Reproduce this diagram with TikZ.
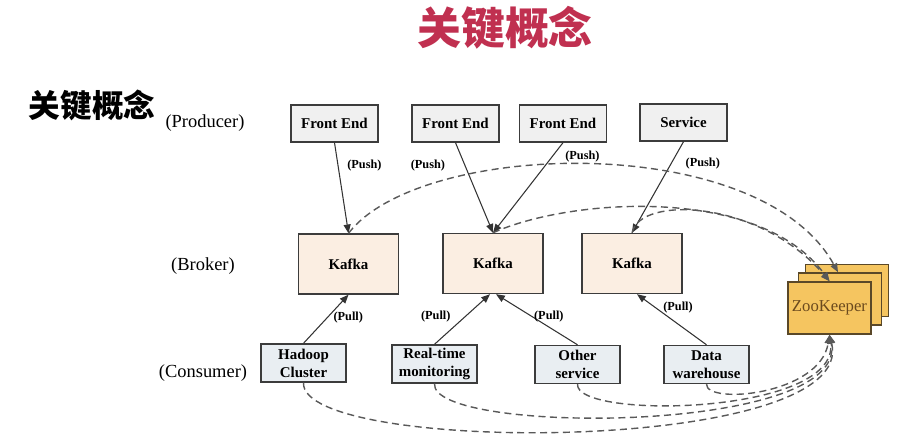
\documentclass[tikz,border=0pt]{standalone}
\usepackage{fontspec}
\setmainfont{Liberation Serif}
\newfontfamily\cjk{Noto Sans CJK SC}
\usetikzlibrary{positioning, arrows.meta, calc}

\definecolor{titlered}{RGB}{192,48,80}
\definecolor{boxline}{RGB}{60,60,60}
\definecolor{prodfill}{RGB}{240,240,240}
\definecolor{brokfill}{RGB}{251,238,226}
\definecolor{consfill}{RGB}{233,238,242}
\definecolor{zoofill}{RGB}{245,197,96}
\definecolor{zooline}{RGB}{90,72,40}
\definecolor{zootext}{RGB}{107,74,30}

\begin{document}
\begin{tikzpicture}[
  x=0.02cm, y=-0.02cm,
  prod/.style={draw=boxline, fill=prodfill, line width=0.8pt, minimum width=1.74cm,
    minimum height=0.74cm, inner sep=0pt, font=\bfseries\fontsize{8.5}{10}\selectfont},
  brok/.style={draw=boxline, fill=brokfill, line width=0.8pt, minimum width=2.0cm,
    minimum height=1.2cm, inner sep=0pt, font=\bfseries\fontsize{8.5}{10}\selectfont},
  cons/.style={draw=boxline, fill=consfill, line width=0.8pt, minimum width=1.7cm,
    minimum height=0.76cm, inner sep=0pt, align=center, font=\bfseries\fontsize{8.5}{10.2}\selectfont},
  zoo/.style={draw=zooline, fill=zoofill, line width=0.9pt, minimum width=1.66cm,
    minimum height=1.04cm, inner sep=0pt, text=zootext, font=\rmfamily\fontsize{9.5}{11}\selectfont},
  push/.style={-{Triangle[length=5pt, width=4pt]}, line width=0.6pt, draw=black!80},
  zkline/.style={-{Triangle[length=5pt, width=4pt]}, line width=0.8pt, draw=black!65,
    dash pattern=on 4pt off 2.5pt},
  lbl/.style={font=\bfseries\fontsize{7}{8}\selectfont, inner sep=1pt},
  row/.style={font=\fontsize{10.5}{12}\selectfont}
]
\useasboundingbox (0,0) rectangle (916,448);

% --- headings ---
\node[text=titlered, font=\cjk\bfseries\fontsize{25}{30}\selectfont] (title) at (505,28) {关键概念};
\node[font=\cjk\bfseries\fontsize{18}{22}\selectfont] (side) at (92,105) {关键概念};

% --- row captions ---
\node[row] (rprod) at (205,123) {(Producer)};
\node[row] (rbrok) at (203,266) {(Broker)};
\node[row] (rcons) at (203,373) {(Consumer)};

% --- producers ---
\node[prod] (fe1) at (334.5,123.5) {Front End};
\node[prod] (fe2) at (455.5,123.5) {Front End};
\node[prod] (fe3) at (563,123.5)   {Front End};
\node[prod] (sv)  at (683.5,122.5) {Service};

% --- brokers ---
\node[brok] (k1) at (348.5,264) {Kafka};
\node[brok] (k2) at (493,263.5) {Kafka};
\node[brok] (k3) at (632,263.5) {Kafka};

% --- consumers ---
\node[cons] (hc) at (303.5,363)   {Hadoop\\Cluster};
\node[cons] (rt) at (434.5,364)   {Real-time\\monitoring};
\node[cons] (os) at (577.5,364.5) {Other\\service};
\node[cons] (dw) at (706.5,364.5) {Data\\warehouse};

% --- zookeeper ensemble, stacked ---
\node[zoo] (zk3) at (847,290.5) {};
\node[zoo] (zk2) at (840,299)   {};
\node[zoo] (zk1) at (829.5,308) {ZooKeeper};

% push: producers -> brokers
\draw[push] (fe1.south) -- (k1.north) node[lbl, pos=0.25, right=4pt] {(Push)};
\draw[push] (fe2.south) -- (k2.north) node[lbl, pos=0.25, left=10pt] {(Push)};
\draw[push] (fe3.south) -- (k2.north) node[lbl, pos=0.15, right=6pt] {(Push)};
\draw[push] (sv.south) -- (k3.north) node[lbl, pos=0.24, right=7pt] {(Push)};

% pull: consumers -> brokers
\draw[push] (hc.north) -- (k1.south) node[lbl, pos=0.54, right=2pt] {(Pull)};
\draw[push] (rt.north) -- ($(k2.south)+(-3,0)$) node[lbl, pos=0.55, left=7pt] {(Pull)};
\draw[push] (os.north) -- ($(k2.south)+(3,0)$) node[lbl, pos=0.56, right=0pt] {(Pull)};
\draw[push] (dw.north) -- ($(k3.south)+(5,0)$) node[lbl, pos=0.73, right=3pt] {(Pull)};

% brokers register with zookeeper
\draw[zkline] (k1.north) .. controls (420,140) and (760,130) .. ($(zk2.north)+(-2,0)$);
\draw[zkline] (k2.north) .. controls (570,198) and (760,185) .. (zk1.north);
\draw[zkline] (k3.north) .. controls (640,195) and (760,200) .. (zk1.north);

% consumers track offsets in zookeeper
\draw[zkline] (hc.south) .. controls (300,455) and (860,455) .. (zk1.south);
\draw[zkline] (rt.south) .. controls (430,435) and (850,435) .. (zk1.south);
\draw[zkline] (os.south) .. controls (575,420) and (840,415) .. (zk1.south);
\draw[zkline] (dw.south) .. controls (706,405) and (820,395) .. (zk1.south);

\end{tikzpicture}
\end{document}
